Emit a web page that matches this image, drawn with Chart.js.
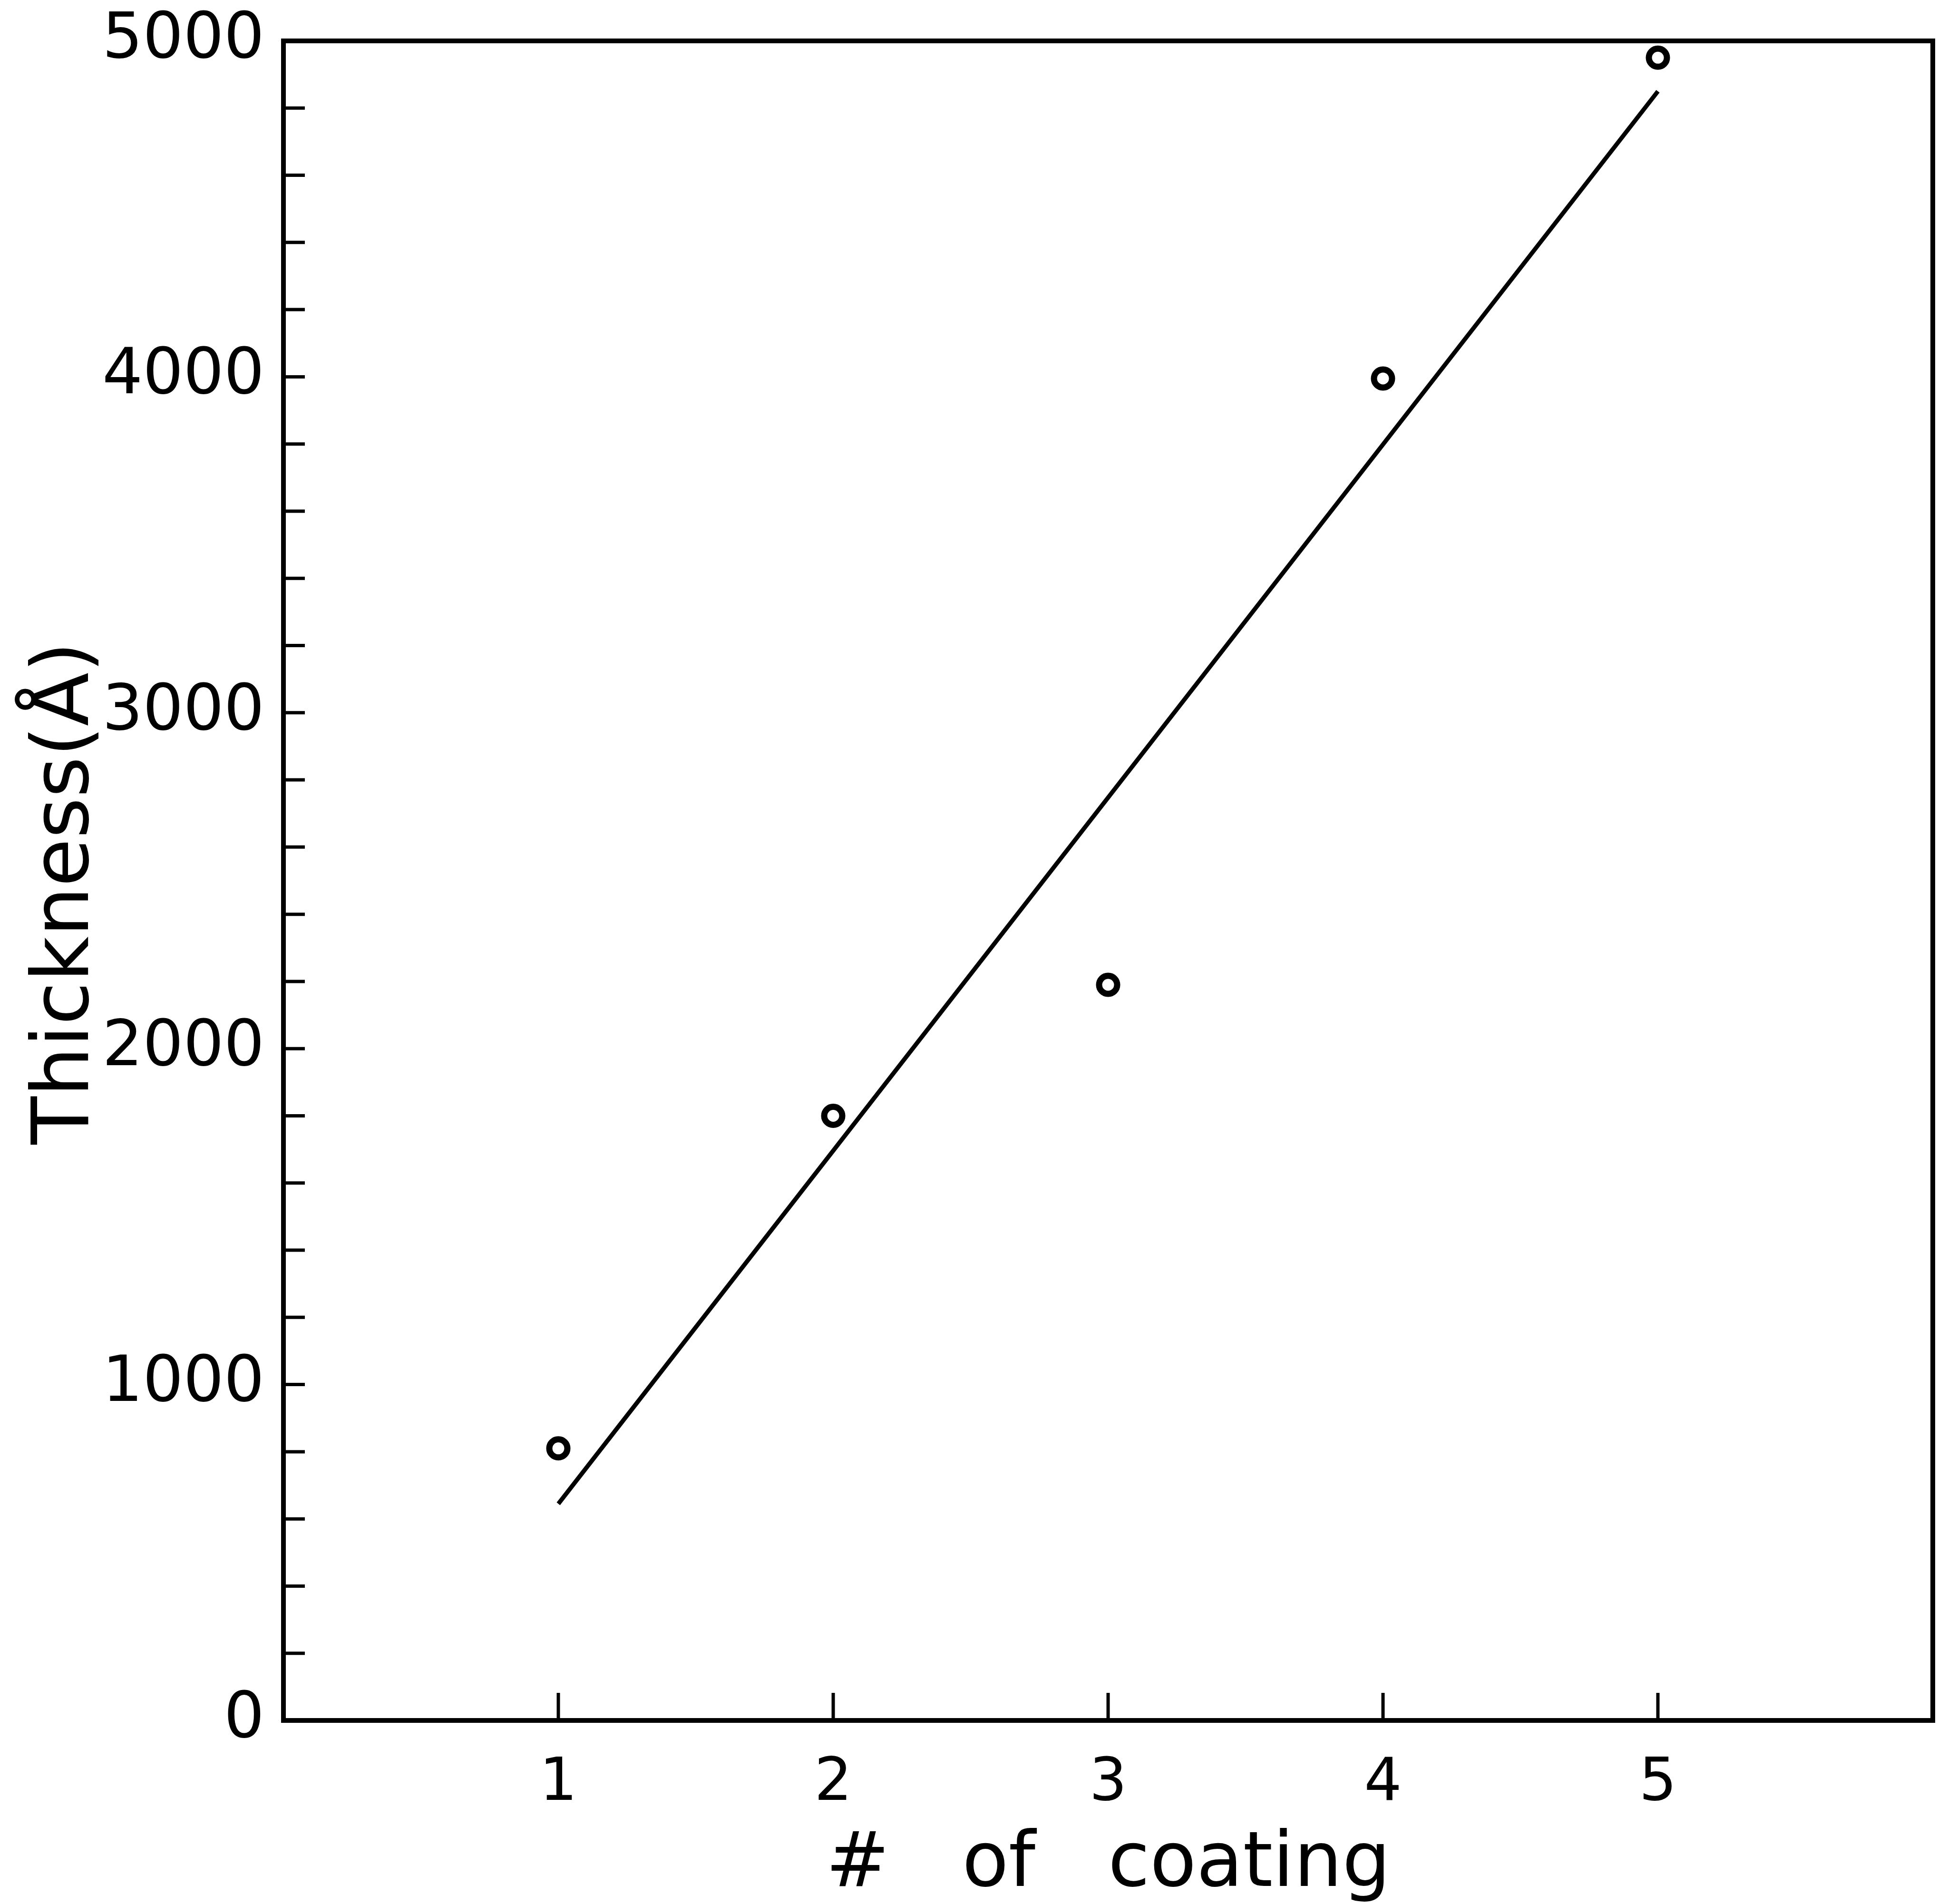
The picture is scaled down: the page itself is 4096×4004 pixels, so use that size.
<!DOCTYPE html>
<html>
<head>
    <script src="https://cdn.jsdelivr.net/npm/chart.js"></script>
    <style>
        body { margin: 0; background: #fff; }
        canvas { display: block; }
    </style>
</head>
<body>
    <canvas id="thicknessChart" width="4096" height="4004"></canvas>
    <script>
        // measured points: thickness per number of coatings
        const coatings = [1, 2, 3, 4, 5];
        const thickness = [810, 1800, 2190, 3995, 4950];
        // straight fit line drawn through the points
        const fitX = [1, 5];
        const fitY = [645, 4850];
        const yLabelValues = [0, 1000, 2000, 3000, 4000, 5000];
        const xLabelValues = [1, 2, 3, 4, 5];

        const FONT = 'DejaVu Sans';

        // inward tick marks + box frame (Chart.js has no inside ticks)
        const frameTicks = {
            id: 'frameTicks',
            afterDatasetsDraw(chart) {
                const ctx = chart.ctx;
                const a = chart.chartArea;
                const xs = chart.scales.x, ys = chart.scales.y;
                ctx.save();
                ctx.strokeStyle = '#000';
                ctx.lineWidth = 7;
                ys.ticks.forEach(t => {
                    if (t.value <= ys.min || t.value >= ys.max) return;
                    const py = ys.getPixelForValue(t.value);
                    ctx.beginPath();
                    ctx.moveTo(a.left, py);
                    ctx.lineTo(a.left + 45, py);
                    ctx.stroke();
                });
                xs.ticks.forEach(t => {
                    if (!xLabelValues.includes(t.value)) return;
                    const px = xs.getPixelForValue(t.value);
                    ctx.beginPath();
                    ctx.moveTo(px, a.bottom);
                    ctx.lineTo(px, a.bottom - 58);
                    ctx.stroke();
                });
                ctx.lineWidth = 10;
                ctx.strokeRect(a.left, a.top, a.right - a.left, a.bottom - a.top);
                ctx.restore();
            }
        };

        new Chart(document.getElementById('thicknessChart'), {
            type: 'scatter',
            data: {
                datasets: [
                    {
                        label: 'measured',
                        data: coatings.map((c, i) => ({ x: c, y: thickness[i] })),
                        showLine: false,
                        pointStyle: 'circle',
                        pointRadius: 19,
                        pointBorderWidth: 13,
                        pointBorderColor: '#000',
                        pointBackgroundColor: 'rgba(255,255,255,0)'
                    },
                    {
                        label: 'fit',
                        data: fitX.map((x, i) => ({ x: x, y: fitY[i] })),
                        showLine: true,
                        borderColor: '#000',
                        borderWidth: 9,
                        pointRadius: 0
                    }
                ]
            },
            options: {
                responsive: false,
                devicePixelRatio: 1,
                animation: false,
                layout: { padding: { top: 86, right: 13, left: 0, bottom: 0 } },
                plugins: { legend: { display: false }, tooltip: { enabled: false } },
                scales: {
                    x: {
                        type: 'linear',
                        min: 0,
                        max: 6,
                        grid: { display: false, drawTicks: false },
                        border: { display: false },
                        afterFit: s => {
                            s.height = 386;
                            s.paddingLeft = 0;
                            s.paddingRight = 0;
                        },
                        ticks: {
                            stepSize: 1,
                            autoSkip: false,
                            maxRotation: 0,
                            padding: 60,
                            color: '#000',
                            font: { family: FONT, size: 125, lineHeight: 1.2 },
                            callback: v => xLabelValues.includes(v) ? v : ''
                        },
                        title: {
                            display: true,
                            text: '#   of   coating',
                            color: '#000',
                            font: { family: FONT, size: 160, lineHeight: 1 },
                            padding: { top: 0, bottom: 0 }
                        }
                    },
                    y: {
                        min: 0,
                        max: 5000,
                        grid: { display: false, drawTicks: false },
                        border: { display: false },
                        afterFit: s => {
                            s.width = 596;
                            s.paddingTop = 0;
                            s.paddingBottom = 0;
                        },
                        ticks: {
                            stepSize: 200,
                            autoSkip: false,
                            padding: 40,
                            color: '#000',
                            font: { family: FONT, size: 134, lineHeight: 1.2 },
                            callback: v => yLabelValues.includes(v) ? v : ''
                        },
                        title: {
                            display: true,
                            text: 'Thickness(Å) ',
                            color: '#000',
                            font: { family: FONT, size: 165, lineHeight: 1 },
                            padding: { top: 60, bottom: 0 }
                        }
                    }
                }
            },
            plugins: [frameTicks]
        });
    </script>
</body>
</html>
